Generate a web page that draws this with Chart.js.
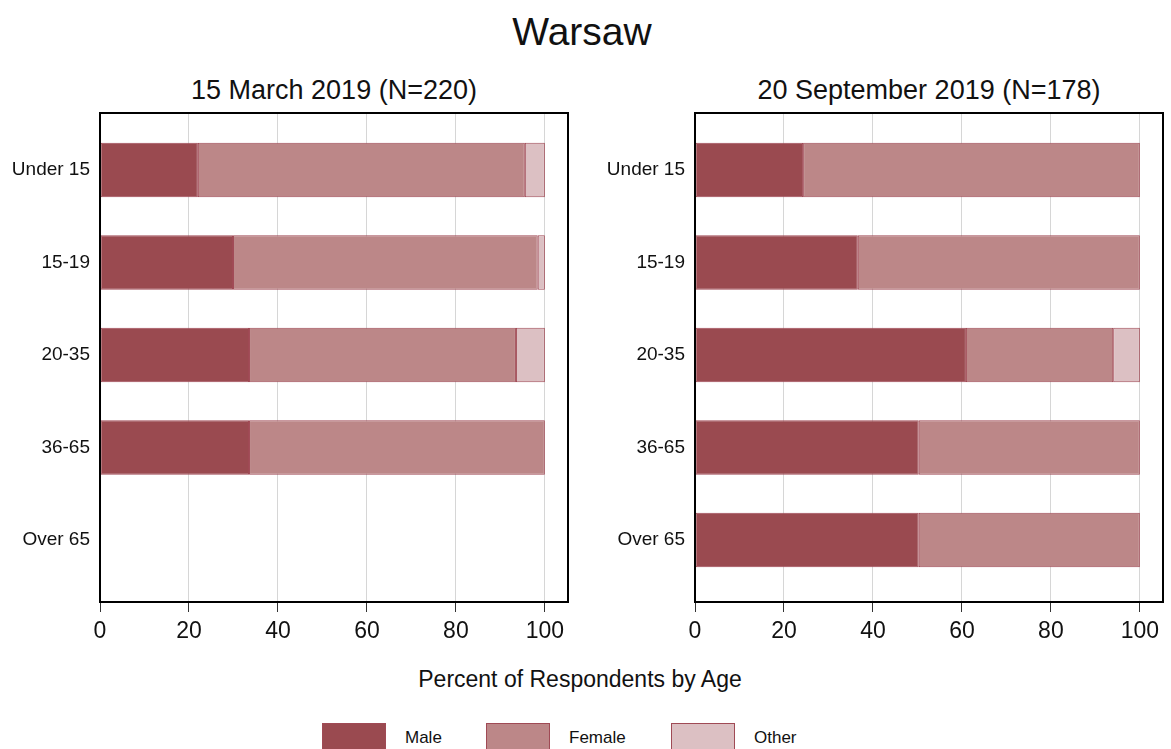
<!DOCTYPE html>
<html>
<head>
<meta charset="utf-8">
<script src="https://cdn.jsdelivr.net/npm/chart.js@4/dist/chart.umd.min.js"></script>
<style>
    body { margin: 0; background: #fff; font-family: 'Liberation Sans', Arial, sans-serif; color: #111; }
    #page { position: relative; width: 1171px; height: 749px; overflow: hidden; }
    .txt { position: absolute; white-space: nowrap; transform: translate(-50%, -50%); }
    canvas { position: absolute; }
    .legend-box { position: absolute; width: 64px; height: 30px; border: 1.5px solid #a04a55; box-sizing: border-box; }
    .legend-label { position: absolute; font-size: 17px; transform: translateY(-50%); }
</style>
</head>
<body>
<div id="page">
    <div class="txt" style="left:582px; top:32px; font-size:39px;">Warsaw</div>
    <div class="txt" style="left:334px; top:90px; font-size:27px;">15 March 2019 (N=220)</div>
    <div class="txt" style="left:929px; top:90px; font-size:27px;">20 September 2019 (N=178)</div>
    <canvas id="chart-march" width="585" height="560" style="left:0; top:100px;"></canvas>
    <canvas id="chart-sept" width="576" height="560" style="left:595px; top:100px;"></canvas>
    <div class="txt" style="left:580px; top:679px; font-size:23px;">Percent of Respondents by Age</div>
    <div id="legend"></div>
</div>
<script>
const ageGroups = ['Under 15', '15-19', '20-35', '36-65', 'Over 65'];
const seriesNames = ['Male', 'Female', 'Other'];
const seriesColors = ['#9a4a50', '#bc8788', '#dcc0c3'];
const xTicks = [0, 20, 40, 60, 80, 100];

// 15 March 2019
const marchMale = [22.0, 29.9, 33.5, 33.5, null];
const marchFemale = [73.5, 68.5, 60.0, 66.5, null];
const marchOther = [4.5, 1.6, 6.5, null, null];

// 20 September 2019
const septMale = [24.3, 36.6, 60.9, 50.3, 50.3];
const septFemale = [75.7, 63.4, 33.1, 49.7, 49.7];
const septOther = [null, null, 6.0, null, null];

const font = "'Liberation Sans', Arial, sans-serif";

// draw full box round the plot area
const framePlugin = {
    id: 'frame',
    afterDraw(chart) {
        const { ctx, chartArea: a } = chart;
        ctx.save();
        ctx.strokeStyle = '#000';
        ctx.lineWidth = 2;
        ctx.strokeRect(a.left, a.top, a.right - a.left, a.bottom - a.top);
        ctx.restore();
    }
};

const makeChart = (id, male, female, other, padRight) => {
    const toPoints = (arr) => arr.map((v, i) => ({ x: v, y: i }));
    const values = [male, female, other];
    new Chart(document.getElementById(id).getContext('2d'), {
        type: 'bar',
        data: {
            datasets: seriesNames.map((name, i) => ({
                label: name,
                data: toPoints(values[i]),
                backgroundColor: seriesColors[i],
                borderColor: '#a04a55',
                borderWidth: 1,
                borderSkipped: false,
                barPercentage: 0.59,
                categoryPercentage: 1,
            }))
        },
        options: {
            indexAxis: 'y',
            responsive: false,
            animation: false,
            layout: { padding: { top: 13, right: padRight, bottom: 0, left: 0 } },
            plugins: {
                legend: { display: false },
                title: { display: false },
                tooltip: { enabled: false }
            },
            scales: {
                x: {
                    type: 'linear',
                    stacked: true,
                    min: 0,
                    max: 105.2,
                    afterBuildTicks: (scale) => {
                        scale.ticks = xTicks.map(v => ({ value: v }));
                    },
                    afterFit: (scale) => { scale.height = 58; },
                    grid: {
                        color: '#d6d6d6',
                        tickColor: '#333',
                        tickLength: 10,
                        lineWidth: 1
                    },
                    border: { display: false },
                    ticks: {
                        padding: 6,
                        color: '#111',
                        font: { family: font, size: 23 },
                        maxRotation: 0
                    }
                },
                y: {
                    type: 'linear',
                    stacked: true,
                    reverse: true,
                    offset: false,
                    min: -0.616,
                    max: 4.67,
                    afterBuildTicks: (scale) => {
                        scale.ticks = ageGroups.map((_, i) => ({ value: i }));
                    },
                    afterFit: (scale) => {
                        scale.width = 100;
                        scale.paddingTop = 0;
                        scale.paddingBottom = 0;
                    },
                    grid: { display: false, drawTicks: false, offset: false },
                    border: { display: false },
                    ticks: {
                        padding: 10,
                        color: '#111',
                        font: { family: font, size: 19 },
                        callback: (value) => ageGroups[value]
                    }
                }
            }
        },
        plugins: [framePlugin]
    });
}

makeChart('chart-march', marchMale, marchFemale, marchOther, 17);
makeChart('chart-sept', septMale, septFemale, septOther, 8);

// legend along the bottom
const legendX = [322, 486, 671];
const legend = document.getElementById('legend');
seriesNames.forEach((name, i) => {
    const box = document.createElement('div');
    box.className = 'legend-box';
    box.style.left = legendX[i] + 'px';
    box.style.top = '723px';
    box.style.background = seriesColors[i];
    legend.appendChild(box);
    const label = document.createElement('div');
    label.className = 'legend-label';
    label.style.left = (legendX[i] + 83) + 'px';
    label.style.top = '738px';
    label.textContent = name;
    legend.appendChild(label);
});
</script>
</body>
</html>
